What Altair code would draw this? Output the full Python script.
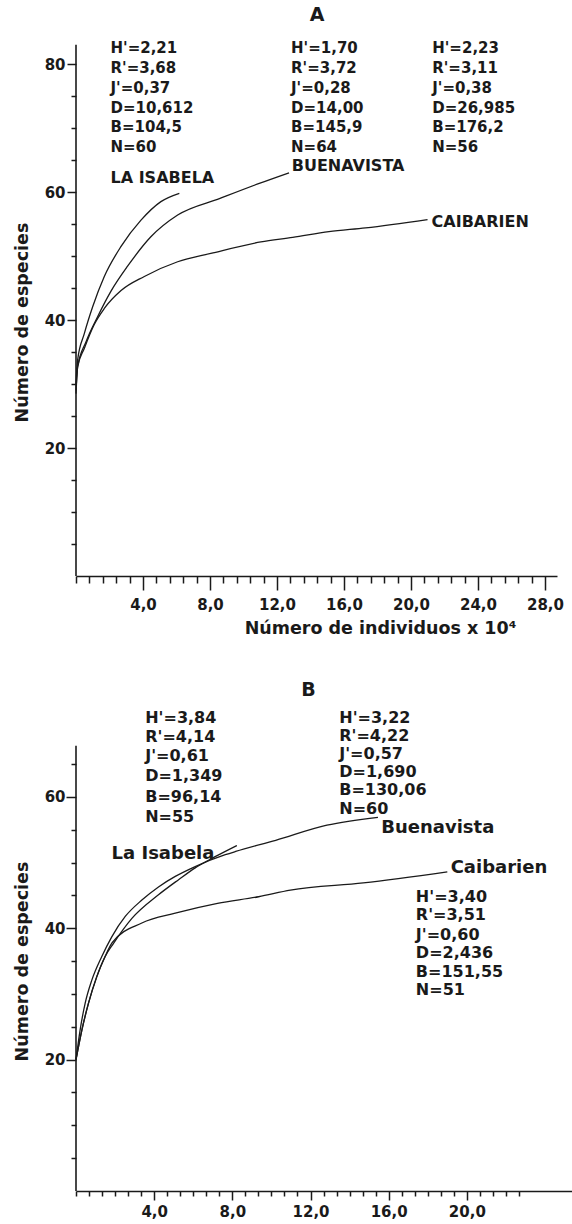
import altair as alt
import pandas as pd

FONT = "DejaVu Sans"
INK = "#1a1a1a"

# ---------------- Panel A ----------------
A_SITES = ["LA ISABELA", "BUENAVISTA", "CAIBARIEN"]
A_ISABELA_X = [0, 0.1, 0.5, 1.0, 1.69, 2.69, 3.88, 5.07, 6.17]
A_ISABELA_Y = [30, 33.8, 37.9, 42.1, 46.8, 51.5, 55.6, 58.5, 59.8]
A_BUENA_X = [0, 0.1, 0.6, 1.29, 2.09, 3.08, 4.47, 6.07, 8.6, 10.9, 12.72]
A_BUENA_Y = [29, 32.7, 36.6, 40.5, 44.5, 48.4, 53.0, 56.4, 59.0, 61.3, 63.0]
A_CAIB_X = [0, 0.1, 0.5, 1.09, 1.69, 2.69, 4.08, 6.07, 8.05, 11.04, 12.94, 15.1, 17.29, 20.99]
A_CAIB_Y = [28.5, 32.7, 35.6, 39.3, 41.8, 44.6, 46.8, 49.1, 50.4, 52.2, 52.9, 53.8, 54.4, 55.7]

A_STATS = [
    ["H'=2,21", "R'=3,68", "J'=0,37", "D=10,612", "B=104,5", "N=60"],
    ["H'=1,70", "R'=3,72", "J'=0,28", "D=14,00", "B=145,9", "N=64"],
    ["H'=2,23", "R'=3,11", "J'=0,38", "D=26,985", "B=176,2", "N=56"],
]
A_STATS_X = [2.06, 12.84, 21.27]
A_STATS_Y = [82.5, 79.4, 76.3, 73.2, 70.1, 67.0]
A_LABEL_X = [2.06, 12.88, 21.23]
A_LABEL_Y = [62.2, 64.1, 55.3]

A_X_MAJOR = [4, 8, 12, 16, 20, 24, 28]
A_X_MINOR = [round(0.8 * i, 2) for i in range(0, 36) if i % 5 != 0] + [0]
A_Y_MAJOR = [20, 40, 60, 80]
A_Y_MINOR = [v for v in range(5, 80, 5) if v % 20 != 0]

# ---------------- Panel B ----------------
B_SITES = ["La Isabela", "Buenavista", "Caibarien"]
B_ISABELA_X = [0, 0.30, 0.64, 1.06, 1.49, 1.92, 2.86, 4.22, 5.25, 6.1, 7.12, 8.23]
B_ISABELA_Y = [20, 24.5, 28.6, 32.6, 35.7, 37.7, 41.5, 45.1, 47.4, 49.2, 50.9, 52.6]
B_BUENA_X = [0, 0.21, 0.47, 0.81, 1.32, 1.83, 2.52, 3.37, 4.22, 5.08, 6.1, 7.64, 8.17, 10.22, 12.84, 15.45]
B_BUENA_Y = [20, 24.5, 28.6, 32.1, 35.7, 38.7, 41.8, 44.3, 46.3, 47.9, 49.4, 51.2, 51.7, 53.4, 55.7, 56.9]
B_CAIB_X = [0, 0.30, 0.64, 1.06, 1.49, 1.85, 3.37, 5.08, 7.24, 9.34, 10.97, 14.7, 19.0]
B_CAIB_Y = [20, 24.5, 28.6, 32.6, 35.7, 37.8, 40.8, 42.3, 43.8, 44.8, 45.8, 46.9, 48.6]

B_STATS = [
    ["H'=3,84", "R'=4,14", "J'=0,61", "D=1,349", "B=96,14", "N=55"],
    ["H'=3,22", "R'=4,22", "J'=0,57", "D=1,690", "B=130,06", "N=60"],
    ["H'=3,40", "R'=3,51", "J'=0,60", "D=2,436", "B=151,55", "N=51"],
]
B_STATS_X = [3.54, 13.47, 17.39]
B_STATS_Y = [
    [72.03, 69.13, 66.24, 63.2, 60.0, 56.95],
    [72.03, 69.21, 66.47, 63.81, 60.99, 58.17],
    [44.77, 42.03, 38.98, 36.24, 33.35, 30.61],
]
B_LABEL_X = [1.82, 15.62, 19.17]
B_LABEL_Y = [51.3, 55.28, 49.18]

B_X_MAJOR = [4, 8, 12, 16, 20]
B_X_MINOR = [round(i * 2 / 3, 3) for i in range(0, 35) if i % 6 != 0] + [0]
B_Y_MAJOR = [20, 40, 60]
B_Y_MINOR = [v for v in range(5, 70, 5) if v % 20 != 0]

LABEL_EXPR = "replace(format(datum.value, '.1f'), '.', ',')"


def curves_df(sites, xs_list, ys_list):
    rows = []
    for s, xs, ys in zip(sites, xs_list, ys_list):
        for i, (x, y) in enumerate(zip(xs, ys)):
            rows.append({"site": s, "x": x, "y": y, "o": i})
    return pd.DataFrame(rows)


def stats_df(stats, xs, ys_list):
    rows = []
    for block, x, ys in zip(stats, xs, ys_list):
        for t, y in zip(block, ys):
            rows.append({"x": x, "y": y, "t": t})
    return pd.DataFrame(rows)


def panel(curves, xscale, yscale, w, h, axis_top, xmaj, xmin, ymaj, ymin,
          xmaj_tick, xmin_tick, ymaj_tick, ymin_tick, xlab_pad, ylab_pad,
          texts, x_title, ytitle_y):
    base_axis = dict(grid=False, tickColor=INK, domainColor=INK, tickWidth=1.5,
                     domainWidth=1.6, labelColor=INK, labelFont=FONT,
                     labelFontWeight="bold", labelFontSize=15, labelFlush=False,
                     labelOverlap=False)
    x_major_kwargs = dict(orient="bottom", values=xmaj, tickSize=xmaj_tick,
                          labelPadding=xlab_pad, labelExpr=LABEL_EXPR, **base_axis)
    if x_title:
        x_major_kwargs.update(title=x_title, titleX=304, titleY=52,
                              titleAlign="center", titleBaseline="middle",
                              titleFont=FONT, titleFontSize=17.5,
                              titleFontWeight="bold", titleColor=INK)
    else:
        x_major_kwargs.update(title=None)
    lines = alt.Chart(curves).mark_line(
        interpolate="monotone", color=INK, strokeWidth=1.3
    ).encode(
        x=alt.X("x:Q", scale=xscale, axis=alt.Axis(**x_major_kwargs)),
        y=alt.Y("y:Q", scale=yscale, axis=alt.Axis(
            orient="left", values=ymaj, tickSize=ymaj_tick, labelPadding=ylab_pad,
            domain=False, format="d", title="Número de especies",
            titleX=-54, titleY=ytitle_y, titleAngle=270, titleAlign="center",
            titleBaseline="middle", titleFont=FONT, titleFontSize=17.5,
            titleFontWeight="bold", titleColor=INK, **base_axis)),
        detail="site:N",
        order="o:Q",
    )
    axis_line = alt.Chart(pd.DataFrame({"x": [0], "y": [0], "y2": [axis_top]})).mark_rule(
        color=INK, strokeWidth=1.6
    ).encode(
        x=alt.X("x:Q", scale=xscale, axis=alt.Axis(
            orient="bottom", values=xmin, tickSize=xmin_tick, labels=False,
            domain=False, title=None, grid=False, tickColor=INK, tickWidth=1.5)),
        y=alt.Y("y:Q", scale=yscale, axis=alt.Axis(
            orient="left", values=ymin, tickSize=ymin_tick, labels=False,
            domain=False, title=None, grid=False, tickColor=INK, tickWidth=1.5)),
        y2="y2:Q",
    )
    layers = [axis_line, lines]
    for df, size, align, weight in texts:
        layers.append(
            alt.Chart(df).mark_text(
                align=align, baseline="middle", font=FONT, fontSize=size,
                fontWeight=weight, color=INK
            ).encode(
                x=alt.X("x:Q", scale=xscale, axis=None),
                y=alt.Y("y:Q", scale=yscale, axis=None),
                text="t:N",
            )
        )
    return alt.layer(*layers).resolve_axis(x="independent", y="independent").properties(
        width=w, height=h
    )


# ---------- Build panel A ----------
xa = alt.Scale(domain=[0, 28.72], nice=False, zero=False)
ya = alt.Scale(domain=[0, 90], nice=False, zero=False)
curves_a = curves_df(A_SITES, [A_ISABELA_X, A_BUENA_X, A_CAIB_X],
                     [A_ISABELA_Y, A_BUENA_Y, A_CAIB_Y])
stats_a = stats_df(A_STATS, A_STATS_X, [A_STATS_Y] * 3)
labels_a = pd.DataFrame({"x": A_LABEL_X, "y": A_LABEL_Y, "t": A_SITES})
title_a = pd.DataFrame({"x": [14.39], "y": [87.66], "t": ["A"]})
panel_a = panel(curves_a, xa, ya, 481, 576, 83, A_X_MAJOR, A_X_MINOR, A_Y_MAJOR,
                A_Y_MINOR, 14, 7, 9, 5, 7, 2,
                [(stats_a, 15, "left", "bold"), (labels_a, 16, "left", "bold"),
                 (title_a, 19, "center", "bold")],
                "Número de individuos x 10⁴", 322)

# ---------- Build panel B ----------
xb = alt.Scale(domain=[0, 25.38], nice=False, zero=False)
yb = alt.Scale(domain=[0, 81], nice=False, zero=False)
curves_b = curves_df(B_SITES, [B_ISABELA_X, B_BUENA_X, B_CAIB_X],
                     [B_ISABELA_Y, B_BUENA_Y, B_CAIB_Y])
stats_b = stats_df(B_STATS, B_STATS_X, B_STATS_Y)
labels_b = pd.DataFrame({"x": B_LABEL_X, "y": B_LABEL_Y, "t": B_SITES})
title_b = pd.DataFrame({"x": [11.89], "y": [76.29], "t": ["B"]})
panel_b = panel(curves_b, xb, yb, 496, 532, 67.8, B_X_MAJOR, B_X_MINOR, B_Y_MAJOR,
                B_Y_MINOR, 9, 5, 10, 5, 4, 1,
                [(stats_b, 16, "left", "bold"), (labels_b, 18, "left", "bold"),
                 (title_b, 19, "center", "bold")],
                None, 302)

chart = alt.vconcat(panel_a, panel_b, spacing=83, bounds="flush").configure_view(
    strokeWidth=0
).properties(
    padding={"left": 13, "top": 0, "right": 0, "bottom": 0},
    background="white",
)

chart.save("out.html", embed_options={"renderer": "svg", "actions": False})
